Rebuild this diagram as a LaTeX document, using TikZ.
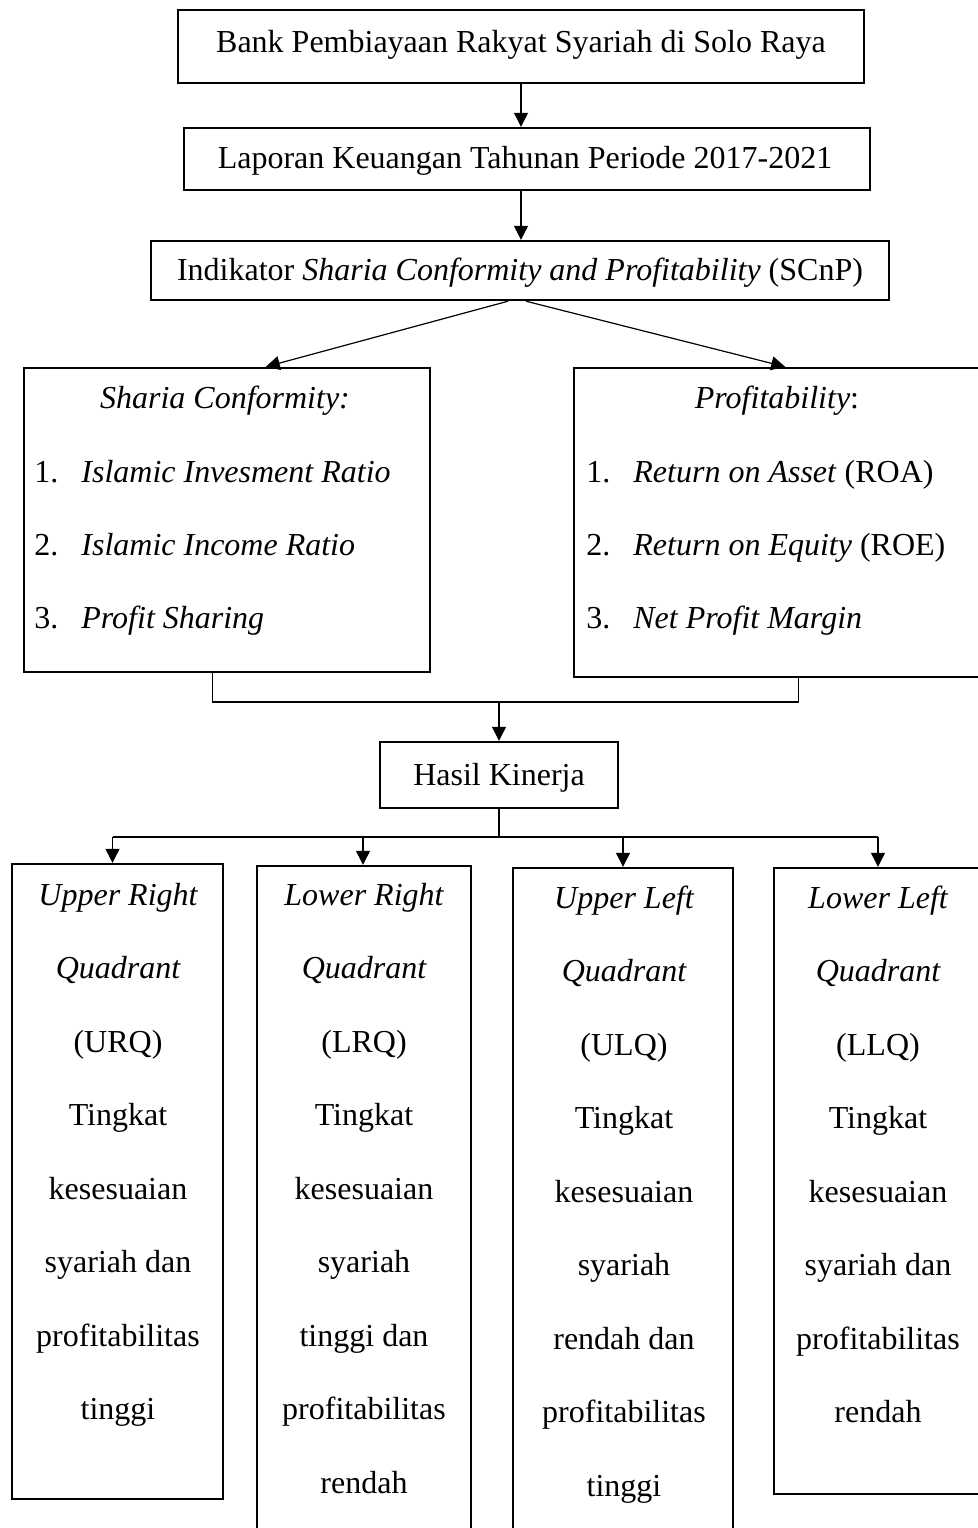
\documentclass[tikz,border=0pt]{standalone}
\usepackage{fontspec}
\setmainfont{Liberation Serif}
\usetikzlibrary{arrows.meta,fit,calc}
\begin{document}
\begin{tikzpicture}[x=0.5pt,y=-0.5pt,
  box/.style={draw,line width=1.2pt,inner sep=0pt},
  txt/.style={font=\fontsize{16pt}{20pt}\selectfont,inner sep=0pt,anchor=base},
  ltxt/.style={txt,anchor=base west},
  conn/.style={line width=0.6pt},
  arr/.style={conn,-{Triangle[length=7pt,width=7pt]}}]
\useasboundingbox (0,0) rectangle (978,1528);
\fill[white] (0,0) rectangle (978,1528);
% top boxes
\node[box,fit={(178,10)(864,83)}] (b1) {};
\node[txt] (t1) at (521,52) {Bank Pembiayaan Rakyat Syariah di Solo Raya};
\node[box,fit={(184,128)(870,190)}] (b2) {};
\node[txt] (t2) at (525,168) {Laporan Keuangan Tahunan Periode 2017-2021};
\node[box,fit={(151,241)(889,300)}] (b3) {};
\node[txt] (t3) at (520,280) {Indikator \textit{Sharia Conformity and Profitability} (SCnP)};
% indicator boxes
\node[box,fit={(24,368)(430,672)}] (sc) {};
\node[box,fit={(574,368)(980,677)}] (pr) {};
\node[txt] (sct) at (225,408) {\textit{Sharia Conformity:}};
\node[txt] (prt) at (777,408) {\textit{Profitability}:};
\node[ltxt] (s1n) at (34,482) {1.};
\node[ltxt] (s1) at (81,482) {\textit{Islamic Invesment Ratio}};
\node[ltxt] (s2n) at (34,555) {2.};
\node[ltxt] (s2) at (81,555) {\textit{Islamic Income Ratio}};
\node[ltxt] (s3n) at (34,628) {3.};
\node[ltxt] (s3) at (81,628) {\textit{Profit Sharing}};
\node[ltxt] (p1n) at (586,482) {1.};
\node[ltxt] (p1) at (633,482) {\textit{Return on Asset} (ROA)};
\node[ltxt] (p2n) at (586,555) {2.};
\node[ltxt] (p2) at (633,555) {\textit{Return on Equity} (ROE)};
\node[ltxt] (p3n) at (586,628) {3.};
\node[ltxt] (p3) at (633,628) {\textit{Net Profit Margin}};
% result
\node[box,fit={(380,742)(618,808)}] (hk) {};
\node[txt] (hkt) at (499,785) {Hasil Kinerja};
% quadrant boxes
\node[box,fit={(12,864)(223,1499)}] (q1) {};
\node[box,fit={(257,866)(471,1545)}] (q2) {};
\node[box,fit={(513,868)(733,1545)}] (q3) {};
\node[box,fit={(774,868)(982,1494)}] (q4) {};
\foreach \t [count=\i from 0] in {{\itshape Upper Right},{\itshape Quadrant},{(URQ)},Tingkat,kesesuaian,{syariah dan},profitabilitas,tinggi}
  \node[txt] (q1l\i) at (118,905+73.5*\i) {\t};
\foreach \t [count=\i from 0] in {{\itshape Lower Right},{\itshape Quadrant},{(LRQ)},Tingkat,kesesuaian,syariah,{tinggi dan},profitabilitas,rendah}
  \node[txt] (q2l\i) at (364,905+73.5*\i) {\t};
\foreach \t [count=\i from 0] in {{\itshape Upper Left},{\itshape Quadrant},{(ULQ)},Tingkat,kesesuaian,syariah,{rendah dan},profitabilitas,tinggi}
  \node[txt] (q3l\i) at (624,908+73.5*\i) {\t};
\foreach \t [count=\i from 0] in {{\itshape Lower Left},{\itshape Quadrant},{(LLQ)},Tingkat,kesesuaian,{syariah dan},profitabilitas,rendah}
  \node[txt] (q4l\i) at (878,908+73.5*\i) {\t};
% connectors
\draw[arr] (b1.south) -- (b1.south |- b2.north);
\draw[arr] (b1.south |- b2.south) -- (b1.south |- b3.north);
\draw[arr] ($(b3.south)+(-12,0)$) -- ($(sc.north west)!0.595!(sc.north east)$);
\draw[arr] ($(b3.south)+(6,0)$) -- ($(pr.north west)!0.52!(pr.north east)$);
\coordinate (j1) at (499,702);
\draw[conn] ($(sc.south west)!0.465!(sc.south east)$) |- (j1) -| ($(pr.south west)!0.552!(pr.south east)$);
\draw[arr] (j1) -- (hk.north);
\coordinate (j2) at (499,837);
\draw[conn] (hk.south) -- (j2);
\draw[conn] ($(q1.north |- j2)+(-5,0)$) -- (q4.north |- j2);
\draw[arr] ($(q1.north |- j2)+(-5,0)$) -- ($(q1.north)+(-5,0)$);
\draw[arr] ($(q2.north |- j2)+(-1,0)$) -- ($(q2.north)+(-1,0)$);
\draw[arr] (q3.north |- j2) -- (q3.north);
\draw[arr] (q4.north |- j2) -- (q4.north);
\end{tikzpicture}
\end{document}
